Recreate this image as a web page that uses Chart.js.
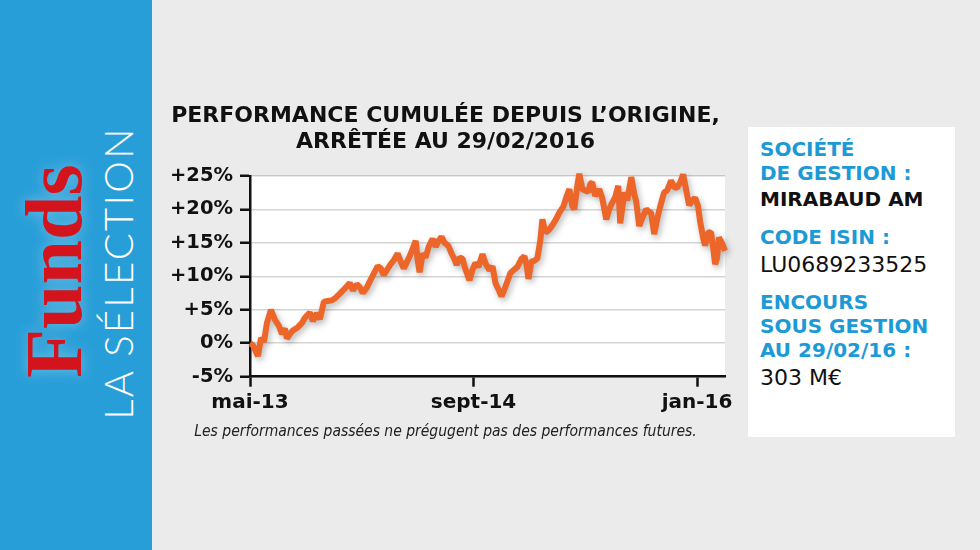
<!DOCTYPE html>
<html lang="fr">
<head>
<meta charset="utf-8">
<title>Funds - la sélection</title>
<script src="https://cdn.jsdelivr.net/npm/chart.js@4.4.1/dist/chart.umd.min.js"></script>
<style>
  html, body { margin: 0; padding: 0; }
  body { width: 980px; height: 550px; background: #ebebeb; position: relative; overflow: hidden; font-family: "DejaVu Sans", sans-serif; }
  #side { position: absolute; left: 0; top: 0; width: 152px; height: 550px; background: #289ed8; }
  .rot { position: absolute; transform: rotate(-90deg); text-align: center; white-space: nowrap; }
  #funds { left: -96px; top: 221px; width: 300px; height: 100px; line-height: 100px;
           font-family: "Liberation Serif", serif; font-weight: bold; font-size: 80px; color: #d4141c;
           text-shadow: 0 0 14px rgba(255,255,255,0.35); }
  #selection { left: -42.5px; top: 248px; width: 320px; height: 50px; line-height: 50px;
           font-family: Lato, "Open Sans", sans-serif; font-weight: 300; font-size: 40px; color: #fff; letter-spacing: 2.3px; }
  #chartBox { position: absolute; left: 166px; top: 95px; }
  #info { position: absolute; left: 748px; top: 127px; width: 207px; height: 310px; background: #fff; }
  #info div { position: absolute; left: 12px; white-space: nowrap; line-height: 24px; }
  .lab { color: #1c9ad6; font-weight: bold; font-size: 20px; }
  .val { color: #111; font-size: 22px; }
</style>
</head>
<body>
<div id="side">
  <div class="rot" id="funds">Funds</div>
  <div class="rot" id="selection">LA SÉLECTION</div>
</div>

<div id="chartBox"><canvas id="perf" width="579" height="350"></canvas></div>

<div id="info">
  <div class="lab" style="top:10px">SOCIÉTÉ</div>
  <div class="lab" style="top:34px">DE GESTION :</div>
  <div class="val" style="top:60px;font-weight:bold;font-size:20px">MIRABAUD AM</div>
  <div class="lab" style="top:98px">CODE ISIN :</div>
  <div class="val" style="top:126px">LU0689233525</div>
  <div class="lab" style="top:163px">ENCOURS</div>
  <div class="lab" style="top:187px">SOUS GESTION</div>
  <div class="lab" style="top:211px">AU 29/02/16 :</div>
  <div class="val" style="top:239px">303 M€</div>
</div>

<script>
// mois écoulés depuis mai 2013
const months = [0, 0.21, 0.57, 0.79, 1.0, 1.21, 1.5, 1.79, 2.07, 2.29, 2.5, 2.64, 2.86, 3.07, 3.43, 3.71,
  3.93, 4.29, 4.5, 4.79, 5.0, 5.29, 5.57, 5.86, 6.14, 6.43, 6.71, 7.14, 7.36, 7.64, 7.86, 8.07,
  8.36, 8.64, 8.86, 9.14, 9.36, 9.57, 9.79, 10.0, 10.29, 10.57, 10.79, 11.0, 11.21, 11.43, 11.64, 11.86,
  12.0, 12.14, 12.36, 12.57, 12.79, 13.07, 13.29, 13.5, 13.71, 13.93, 14.21, 14.43, 14.64, 14.79,
  15.0, 15.21, 15.43, 15.71, 15.93, 16.14, 16.36, 16.64, 16.86, 17.14, 17.36, 17.57, 17.79, 18.0,
  18.21, 18.43, 18.64, 18.86, 19.14, 19.43, 19.64, 19.79, 19.93, 20.14, 20.36, 20.57, 20.79, 20.93,
  21.14, 21.43, 21.64, 21.93, 22.14, 22.43, 22.64, 22.86, 23.07, 23.21, 23.43, 23.57, 23.79, 24.0,
  24.21, 24.36, 24.5, 24.71, 25.0, 25.21, 25.5, 25.71, 25.93, 26.14, 26.36, 26.5, 26.79, 27.0,
  27.29, 27.5, 27.64, 27.86, 28.14, 28.36, 28.57, 28.71, 28.93, 29.14, 29.36, 29.64, 29.86, 30.14,
  30.36, 30.57, 30.79, 31.0, 31.21, 31.43, 31.64, 31.86, 32.07, 32.21, 32.43, 32.57, 32.79, 33.0,
  33.14, 33.29, 33.43, 33.57, 33.79, 34.0];

// performance cumulée en %
const perf = [0.0, -0.3, -1.9, 0.8, 0.2, 3.0, 5.0, 3.5, 2.6, 1.4, 2.2, 0.7, 1.4, 1.9, 2.4, 3.0,
  3.8, 4.6, 3.3, 4.5, 3.6, 6.2, 6.3, 6.4, 6.8, 7.4, 8.0, 9.0, 7.9, 8.8, 8.4, 7.5,
  8.3, 9.5, 10.4, 11.5, 11.2, 10.2, 10.9, 11.6, 12.4, 13.4, 12.2, 11.2, 12.0, 13.0, 14.1, 15.3,
  12.4, 10.6, 13.4, 12.8, 14.4, 15.6, 14.4, 15.3, 15.9, 15.0, 14.5, 13.4, 12.5, 11.7,
  12.8, 12.6, 11.0, 9.4, 11.0, 12.0, 11.4, 13.3, 11.9, 10.9, 11.5, 9.0, 8.0, 7.0,
  8.0, 9.3, 10.5, 10.9, 11.4, 12.6, 13.0, 11.8, 9.6, 12.2, 12.3, 12.7, 15.5, 18.5,
  16.5, 17.0, 17.6, 18.6, 19.5, 20.4, 21.8, 23.0, 20.5, 20.0, 23.5, 25.3, 23.0, 22.8,
  22.6, 23.8, 24.0, 22.0, 23.0, 21.7, 18.5, 20.0, 21.0, 21.8, 23.5, 17.9, 22.5, 21.3,
  24.8, 22.3, 21.2, 17.5, 19.0, 20.0, 19.6, 19.5, 16.3, 18.5, 20.4, 22.5, 22.8, 24.3,
  23.3, 23.2, 24.0, 25.2, 23.0, 20.6, 21.3, 21.7, 20.5, 18.3, 15.8, 14.6, 16.5, 16.6,
  14.5, 11.8, 12.7, 15.8, 14.9, 13.8];

const xTickPos = [0, 16, 32];
const xTickLabels = ['mai-13', 'sept-14', 'jan-16'];
const yTicks = [-5, 0, 5, 10, 15, 20, 25];

const titleLines = ['PERFORMANCE CUMULÉE DEPUIS L’ORIGINE,', 'ARRÊTÉE AU 29/02/2016'];
const footnote = 'Les performances passées ne prégugent pas des performances futures.';

const plotBg = {
  id: 'plotBg',
  beforeDraw(chart) {
    const { ctx, chartArea: a } = chart;
    ctx.save();
    ctx.fillStyle = '#fff';
    ctx.fillRect(a.left, a.top, a.right - a.left, a.bottom - a.top);
    ctx.restore();
  }
};

const lineShadow = {
  id: 'lineShadow',
  beforeDatasetDraw(chart) {
    const c = chart.ctx;
    c.save();
    c.shadowColor = 'rgba(0,0,0,0.28)';
    c.shadowBlur = 6;
    c.shadowOffsetX = 2;
    c.shadowOffsetY = 3;
  },
  afterDatasetDraw(chart) {
    chart.ctx.restore();
  }
};

const ctx = document.getElementById('perf');

new Chart(ctx, {
  type: 'line',
  data: {
    datasets: [{
      data: months.map((m, i) => ({ x: m, y: perf[i] })),
      borderColor: '#ec6529',
      borderWidth: 6,
      borderJoinStyle: 'bevel',
      pointRadius: 0,
      tension: 0,
      clip: false
    }]
  },
  options: {
    responsive: false,
    animation: false,
    layout: { padding: { left: 0, right: 20, top: 0, bottom: 0 } },
    plugins: {
      legend: { display: false },
      tooltip: { enabled: false },
      title: {
        display: true,
        text: titleLines,
        color: '#111',
        font: { family: 'DejaVu Sans', weight: 'bold', size: 22, lineHeight: 1.2 },
        padding: { top: 8, bottom: 20 }
      },
      subtitle: {
        display: true,
        position: 'bottom',
        text: footnote,
        color: '#222',
        font: { family: 'DejaVu Sans Condensed, DejaVu Sans', style: 'italic', size: 15.5, lineHeight: 1.05 },
        padding: { top: 9, bottom: 5 }
      }
    },
    scales: {
      x: {
        type: 'linear',
        min: 0,
        max: 34,
        afterBuildTicks: (scale) => { scale.ticks = xTickPos.map(v => ({ value: v })); },
        afterFit: (scale) => { scale.height = 38; },
        ticks: {
          autoSkip: false,
          maxRotation: 0,
          padding: 4,
          color: '#111',
          font: { family: 'DejaVu Sans', weight: 'bold', size: 20 },
          callback: (v) => xTickLabels[xTickPos.indexOf(v)]
        },
        grid: { drawOnChartArea: false, drawTicks: true, tickLength: 10, tickColor: '#111', tickWidth: 2.5 },
        border: { display: true, color: '#111', width: 2.5 }
      },
      y: {
        min: -5,
        max: 25,
        afterBuildTicks: (scale) => { scale.ticks = yTicks.map(v => ({ value: v })); },
        afterFit: (scale) => { scale.width = 84; },
        ticks: {
          padding: 7,
          color: '#111',
          font: { family: 'DejaVu Sans', weight: 'bold', size: 19.5 },
          callback: (v) => (v > 0 ? '+' : '') + v + '%'
        },
        grid: { color: 'rgba(0,0,0,0.17)', lineWidth: 1.5, tickLength: 10, tickColor: '#111', tickWidth: 2.5 },
        border: { display: true, color: '#111', width: 2.5 }
      }
    }
  },
  plugins: [plotBg, lineShadow]
});
</script>
</body>
</html>
